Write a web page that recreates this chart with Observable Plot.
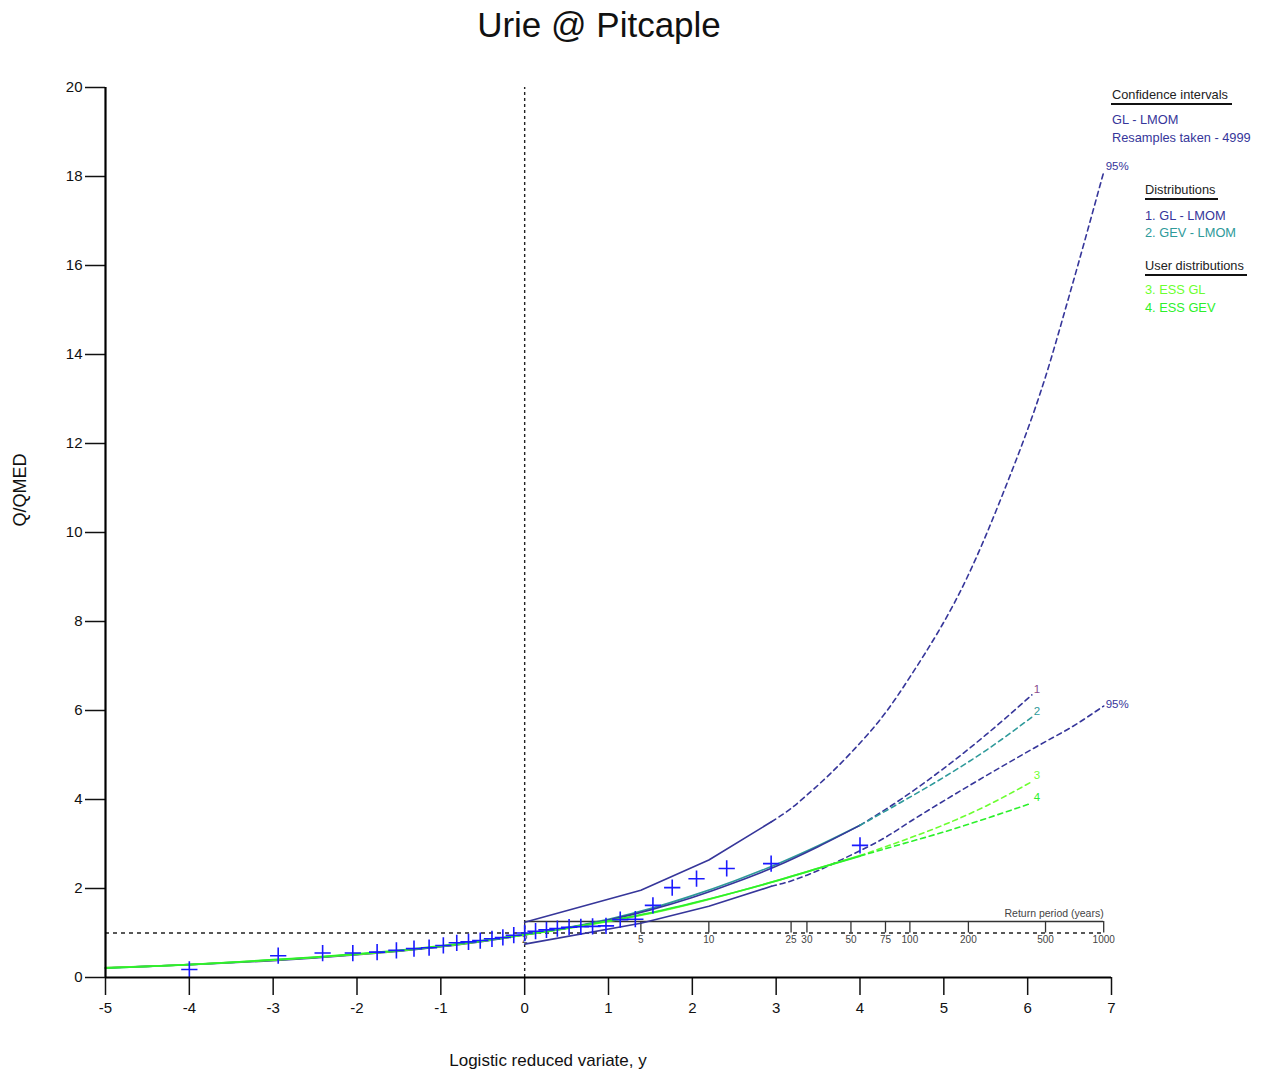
<!DOCTYPE html>
<html><head><meta charset="utf-8">
<script src="https://cdn.jsdelivr.net/npm/d3@7"></script>
<script src="https://cdn.jsdelivr.net/npm/@observablehq/plot@0.6"></script>
<style>
body{margin:0;background:#fff;}
#chart svg{font-family:"Liberation Sans",Arial,sans-serif;display:block;}
</style>
</head><body><div id="chart"></div>
<script>
// Observed annual maxima (Q/QMED) at logistic plotting positions
const obsX = [-4.00,-2.94,-2.41,-2.05,-1.76,-1.53,-1.32,-1.14,-0.97,-0.81,-0.67,-0.53,-0.39,-0.26,-0.13,0.00,0.13,0.26,0.39,0.53,0.67,0.81,0.97,1.14,1.32,1.53,1.76,2.05,2.41,2.94,4.00];
const obsQ = [0.18,0.49,0.55,0.55,0.57,0.61,0.65,0.67,0.72,0.78,0.80,0.83,0.87,0.90,0.95,1.00,1.04,1.07,1.10,1.13,1.14,1.15,1.16,1.30,1.31,1.62,2.02,2.22,2.45,2.56,2.97];

// Fitted growth curves: solid within data range, dashed extrapolation
const fitX  = [-5,-4.5,-4,-3.5,-3,-2.5,-2,-1.5,-1,-0.5,0,0.5,1,1.5,2,2.5,3,3.5,4];
const glLmom  = [0.22,0.25,0.29,0.33,0.38,0.44,0.51,0.59,0.69,0.81,0.96,1.11,1.29,1.52,1.80,2.13,2.50,2.94,3.42];
const gevLmom = [0.21,0.25,0.29,0.34,0.39,0.45,0.52,0.60,0.70,0.82,0.96,1.12,1.31,1.55,1.84,2.17,2.54,2.96,3.42];
const essGl   = [0.22,0.25,0.29,0.34,0.39,0.45,0.52,0.60,0.70,0.82,0.96,1.10,1.26,1.44,1.66,1.91,2.17,2.45,2.74];
const essGev  = [0.21,0.25,0.29,0.34,0.40,0.46,0.53,0.61,0.71,0.83,0.97,1.11,1.27,1.45,1.67,1.91,2.17,2.45,2.73];

const extX = [4,4.5,5,5.5,6.05];
const glLmomExt  = [3.42,4.02,4.70,5.45,6.35];
const gevLmomExt = [3.42,3.95,4.50,5.10,5.85];
const essGlExt   = [2.74,3.07,3.43,3.85,4.40];
const essGevExt  = [2.73,3.00,3.27,3.57,3.92];

// 95% confidence intervals (GL - LMOM, 4999 resamples)
const ciX      = [0,1.386,2.197,2.944];
const ciUpper  = [1.24,1.96,2.64,3.50];
const ciLower  = [0.75,1.22,1.60,2.05];
const ciExtX     = [2.944,3.178,3.367,3.892,4.304,4.595,5.293,5.700,6.213,6.500,6.907];
const ciUpperExt = [3.50,3.80,4.10,5.05,5.95,6.75,9.05,10.85,13.50,15.35,18.10];
const ciLowerExt = [2.05,2.17,2.30,2.75,3.15,3.50,4.30,4.75,5.30,5.60,6.10];

// Return period axis (years) and its position on the reduced variate scale
const rpLabels = ["2","5","10","25","30","50","75","100","200","500","1000"];
const rpX      = [0,1.386,2.197,3.178,3.367,3.892,4.304,4.595,5.293,6.213,6.907];
const rpAxisY = 1.26;

const xTicks = [-5,-4,-3,-2,-1,0,1,2,3,4,5,6,7];
const yTicks = [0,2,4,6,8,10,12,14,16,18,20];

const NAVY = "#36369a", TEAL = "#2e9a9a", LIME = "#6cff30", GREEN = "#2cf02c", PT = "#1a1aff";

const zip = (xs, ys) => xs.map((x, i) => ({x, y: ys[i]}));
const obs = zip(obsX, obsQ);
const endLabels = [
  {x: extX[4], y: glLmomExt[4], t: "1", c: "#8a4a8e"},
  {x: extX[4], y: gevLmomExt[4], t: "2", c: TEAL},
  {x: extX[4], y: essGlExt[4], t: "3", c: LIME},
  {x: extX[4], y: essGevExt[4], t: "4", c: GREEN}
];
const rp = rpX.map((x, i) => ({x, t: rpLabels[i]}));
const dash = "5,4";
const smooth = "monotone-x";

const plot = Plot.plot({
  width: 1271, height: 1072,
  marginLeft: 105, marginRight: 160, marginTop: 87, marginBottom: 95,
  x: {domain: [-5, 7]},
  y: {domain: [0, 20]},
  style: {fontFamily: "Liberation Sans, Arial, sans-serif", fontSize: "15px", background: "white", color: "#111"},
  marks: [
    // reference lines
    Plot.ruleY([1], {x1: -5, x2: 6.907, stroke: "#222", strokeWidth: 1.4, strokeDasharray: "4,4"}),
    Plot.ruleX([0], {y1: 0, y2: 20, stroke: "#222", strokeWidth: 1.4, strokeDasharray: "3,3"}),
    // return period axis
    Plot.ruleY([rpAxisY], {x1: 0, x2: 6.907, stroke: "#333", strokeWidth: 1.5}),
    Plot.ruleX(rp, {x: "x", y1: rpAxisY, y2: 1.0, stroke: "#333", strokeWidth: 1.3}),
    Plot.text(rp, {x: "x", y: rpAxisY, text: "t", dy: 18, fontSize: 10, fill: "#444"}),
    Plot.text(["Return period (years)"], {x: 6.907, y: rpAxisY, text: d => d, textAnchor: "end", dy: -8, fontSize: 10.5, fill: "#444"}),
    // confidence intervals
    Plot.line(zip(ciX, ciUpper), {x: "x", y: "y", stroke: NAVY, strokeWidth: 1.6}),
    Plot.line(zip(ciX, ciLower), {x: "x", y: "y", stroke: NAVY, strokeWidth: 1.6}),
    Plot.line(zip(ciExtX, ciUpperExt), {x: "x", y: "y", stroke: NAVY, strokeWidth: 1.6, strokeDasharray: dash, curve: smooth}),
    Plot.line(zip(ciExtX, ciLowerExt), {x: "x", y: "y", stroke: NAVY, strokeWidth: 1.6, strokeDasharray: dash, curve: smooth}),
    // fitted distributions
    Plot.line(zip(fitX, gevLmom), {x: "x", y: "y", stroke: TEAL, strokeWidth: 1.6, curve: smooth}),
    Plot.line(zip(fitX, glLmom), {x: "x", y: "y", stroke: NAVY, strokeWidth: 1.6, curve: smooth}),
    Plot.line(zip(fitX, essGl), {x: "x", y: "y", stroke: LIME, strokeWidth: 1.8, curve: smooth}),
    Plot.line(zip(fitX, essGev), {x: "x", y: "y", stroke: GREEN, strokeWidth: 1.8, curve: smooth}),
    Plot.line(zip(extX, glLmomExt), {x: "x", y: "y", stroke: NAVY, strokeWidth: 1.6, strokeDasharray: dash, curve: smooth}),
    Plot.line(zip(extX, gevLmomExt), {x: "x", y: "y", stroke: TEAL, strokeWidth: 1.6, strokeDasharray: dash, curve: smooth}),
    Plot.line(zip(extX, essGlExt), {x: "x", y: "y", stroke: LIME, strokeWidth: 1.6, strokeDasharray: dash, curve: smooth}),
    Plot.line(zip(extX, essGevExt), {x: "x", y: "y", stroke: GREEN, strokeWidth: 1.6, strokeDasharray: dash, curve: smooth}),
    // curve labels
    Plot.text(endLabels, {x: "x", y: "y", text: "t", fill: "c", dx: 2, dy: -6, fontSize: 11.5, textAnchor: "start"}),
    Plot.text([{x: ciExtX[10], y: ciUpperExt[10]}], {x: "x", y: "y", text: () => "95%", dx: 2, dy: -6, fontSize: 11.5, fill: NAVY, textAnchor: "start"}),
    Plot.text([{x: ciExtX[10], y: ciLowerExt[10]}], {x: "x", y: "y", text: () => "95%", dx: 2, dy: -2, fontSize: 11.5, fill: NAVY, textAnchor: "start"}),
    // observations
    Plot.dot(obs, {x: "x", y: "y", symbol: "plus", r: 5.3, stroke: PT, strokeWidth: 1.6}),
    // axes
    Plot.axisY({ticks: yTicks, tickSize: 20, tickPadding: 3, label: null, strokeWidth: 1.5, fontSize: 15}),
    Plot.axisX({ticks: xTicks, tickSize: 18, tickPadding: 7, label: null, strokeWidth: 1.5, fontSize: 15, tickFormat: d => String(d)}),
    Plot.ruleX([-5], {y1: 0, y2: 20, stroke: "#000", strokeWidth: 2.2}),
    Plot.ruleY([0], {x1: -5, x2: 7, stroke: "#000", strokeWidth: 2.2})
  ]
});
document.getElementById("chart").appendChild(plot);

// titles, axis labels and legend annotations
const svg = d3.select(plot);
const font = "Liberation Sans, Arial, sans-serif";
svg.append("text").attr("x", 599).attr("y", 37).attr("text-anchor", "middle")
  .attr("font-size", 35).attr("font-family", font).attr("fill", "#111").text("Urie @ Pitcaple");
svg.append("text").attr("transform", "translate(26,490) rotate(-90)").attr("text-anchor", "middle")
  .attr("font-size", 18).attr("font-family", font).attr("fill", "#111").text("Q/QMED");
svg.append("text").attr("x", 548).attr("y", 1066).attr("text-anchor", "middle")
  .attr("font-size", 17).attr("font-family", font).attr("fill", "#111").text("Logistic reduced variate, y");

const legend = [
  {t: "Confidence intervals", x: 1112, y: 99, c: "#222", u: [1111, 1232, 104]},
  {t: "GL - LMOM", x: 1112, y: 124, c: NAVY},
  {t: "Resamples taken - 4999", x: 1112, y: 142, c: NAVY},
  {t: "Distributions", x: 1145, y: 194, c: "#222", u: [1145, 1218, 199]},
  {t: "1. GL - LMOM", x: 1145, y: 220, c: NAVY},
  {t: "2. GEV - LMOM", x: 1145, y: 237, c: TEAL},
  {t: "User distributions", x: 1145, y: 270, c: "#222", u: [1145, 1247, 275]},
  {t: "3. ESS GL", x: 1145, y: 294, c: LIME},
  {t: "4. ESS GEV", x: 1145, y: 312, c: GREEN}
];
for (const l of legend) {
  svg.append("text").attr("x", l.x).attr("y", l.y).attr("text-anchor", "start").attr("font-size", 12.8).attr("font-family", font)
    .attr("fill", l.c).text(l.t);
  if (l.u) svg.append("line").attr("x1", l.u[0]).attr("x2", l.u[1]).attr("y1", l.u[2]).attr("y2", l.u[2])
    .attr("stroke", "#111").attr("stroke-width", 2);
}
</script>
</body></html>
